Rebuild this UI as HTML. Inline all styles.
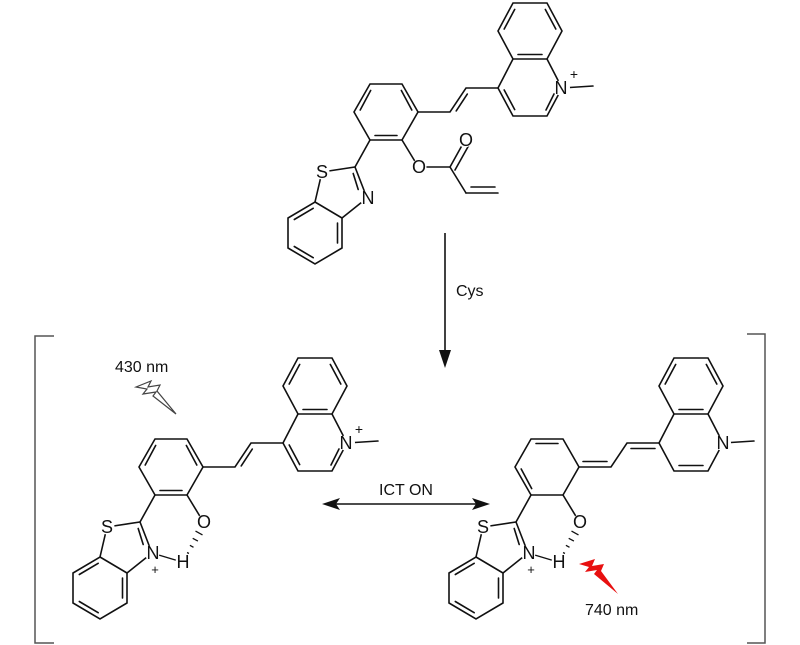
<!DOCTYPE html>
<html><head><meta charset="utf-8"><style>
html,body{margin:0;padding:0;background:#fff;}
svg{display:block;}
text{font-family:"Liberation Sans",Arial,sans-serif;fill:#111;}
</style></head><body>
<svg width="800" height="645" viewBox="0 0 800 645" xmlns="http://www.w3.org/2000/svg">
<defs>
<g id="skel" stroke="#111" stroke-width="1.6" fill="none" stroke-linecap="round">
  <polygon points="513,3 547,3 562,31 547,59 513,59 498,31"/>
  <polyline points="547,59 562,88 547,116 513,116 498,88 513,59"/>
  <line x1="562" y1="88" x2="593" y2="86"/>
  <polyline points="498,88 466,88 450,112 418,112"/>
  <polygon points="370,84 402,84 418,112 402,140 370,140 354,112"/>
  <line x1="402" y1="140" x2="419" y2="168"/>
  <line x1="370" y1="140" x2="355" y2="167"/>
  <polyline points="322,172 355,167 367,198 342,218"/>
  <line x1="322" y1="172" x2="315" y2="202"/>
  <line x1="353.2" y1="173.5" x2="358.2" y2="189.5"/>
  <polygon points="315,202 342,218 342,248 315,264 288,248 288,218"/>
  <line x1="337.5" y1="223" x2="337.5" y2="243"/>
  <line x1="313.2" y1="257.7" x2="294.3" y2="246.5"/>
  <line x1="294.3" y1="219.5" x2="313.2" y2="208.3"/>
  <line x1="504.2" y1="29" x2="514.7" y2="9.4"/>
  <line x1="545.3" y1="9.4" x2="555.8" y2="29"/>
  <line x1="518" y1="54.5" x2="542" y2="54.5"/>
</g>
<g id="cat" stroke="#111" stroke-width="1.6" fill="none" stroke-linecap="round">
  <line x1="546" y1="110" x2="554" y2="94"/>
  <line x1="514.7" y1="109.6" x2="504.2" y2="90"/>
  <line x1="467.3" y1="94.1" x2="456.2" y2="110.9"/>
  <line x1="360.2" y1="110" x2="370.7" y2="90.4"/>
  <line x1="401.3" y1="90.4" x2="411.8" y2="110"/>
  <line x1="375" y1="135.5" x2="397" y2="135.5"/>
</g>
<g id="hb" stroke="#111" stroke-width="1.3" fill="none">
  <line x1="397" y1="207" x2="367" y2="198"/>
  <line x1="402.1" y1="197.5" x2="403.9" y2="198.5"/>
  <line x1="404.9" y1="190.3" x2="408.5" y2="192.3"/>
  <line x1="407.7" y1="183.3" x2="412.9" y2="186.1"/>
  <line x1="410.5" y1="176.1" x2="417.5" y2="179.9"/>
</g>
</defs>

<use href="#skel"/>
<use href="#cat"/>
<g stroke="#111" stroke-width="1.6" fill="none" stroke-linecap="round">
  <line x1="419" y1="167" x2="450" y2="167"/>
  <line x1="450" y1="167" x2="465" y2="140"/>
  <line x1="455" y1="170" x2="469" y2="145"/>
  <line x1="450" y1="167" x2="466" y2="193"/>
  <line x1="466" y1="193" x2="498" y2="193"/>
  <line x1="471" y1="187" x2="495" y2="187"/>
</g>
<g fill="#fff">
  <circle cx="562" cy="88" r="8"/><circle cx="322" cy="172" r="7.5"/><circle cx="367" cy="198" r="7.5"/>
  <circle cx="419" cy="167" r="7.5"/><circle cx="465" cy="140" r="7.5"/>
</g>
<g font-size="18" text-anchor="middle">
  <text x="561" y="94">N</text><text x="574" y="79" font-size="14">+</text>
  <text x="322" y="178">S</text><text x="368" y="204">N</text>
  <text x="419" y="173">O</text><text x="466" y="146">O</text>
</g>

<g transform="translate(-215,355)">
  <use href="#skel"/><use href="#cat"/><use href="#hb"/>
  <g fill="#fff"><circle cx="562" cy="88" r="8"/><circle cx="322" cy="172" r="7.5"/><circle cx="367" cy="198" r="7.5"/><circle cx="419" cy="167" r="7.5"/><circle cx="397" cy="207" r="6.5"/></g>
  <g font-size="18" text-anchor="middle">
    <text x="561" y="94">N</text><text x="574" y="79" font-size="14">+</text>
    <text x="322" y="178">S</text><text x="368" y="204">N</text><text x="370" y="219" font-size="13">+</text>
    <text x="419" y="173">O</text><text x="398" y="213">H</text>
  </g>
</g>

<g transform="translate(161,355)">
  <use href="#skel"/><use href="#hb"/>
  <g stroke="#111" stroke-width="1.6" fill="none" stroke-linecap="round">
    <line x1="518" y1="110.5" x2="542" y2="110.5"/>
    <line x1="470" y1="93.5" x2="494" y2="93.5"/>
    <line x1="422" y1="106.5" x2="446" y2="106.5"/>
    <line x1="375" y1="88.5" x2="397" y2="88.5"/>
    <line x1="360.2" y1="114" x2="370.7" y2="133.6"/>
  </g>
  <g fill="#fff"><circle cx="562" cy="88" r="8"/><circle cx="322" cy="172" r="7.5"/><circle cx="367" cy="198" r="7.5"/><circle cx="419" cy="167" r="7.5"/><circle cx="397" cy="207" r="6.5"/></g>
  <g font-size="18" text-anchor="middle">
    <text x="562" y="94">N</text>
    <text x="322" y="178">S</text><text x="368" y="204">N</text><text x="370" y="219" font-size="13">+</text>
    <text x="419" y="173">O</text><text x="398" y="213">H</text>
  </g>
</g>

<g stroke="#111" stroke-width="1.6">
  <line x1="445" y1="233" x2="445" y2="356"/>
  <line x1="334" y1="504" x2="478" y2="504"/>
</g>
<polygon points="439,350 451,350 445,368" fill="#111"/>
<polygon points="322,504 340,498 336,504 340,510" fill="#111"/>
<polygon points="490,504 472,498 476,504 472,510" fill="#111"/>
<text x="456" y="296" font-size="16">Cys</text>
<text x="406" y="495" font-size="16" text-anchor="middle">ICT ON</text>

<g stroke="#555" stroke-width="1.5" fill="none">
  <polyline points="54,336 35,336 35,643 54,643"/>
  <polyline points="747,334 765,334 765,643 747,643"/>
</g>

<text x="115" y="372" font-size="16">430 nm</text>
<polygon points="136,387 151,381 148,387 160,385 157,391 176,414 153,396 156,392 143,394 147,389" fill="#fff" stroke="#444" stroke-width="1.2"/>
<polygon points="579,564 595,559 592,566 604,564 601,571 618,594 594,574 597,570 585,572 589,567" fill="#e81010"/>
<text x="585" y="615" font-size="16">740 nm</text>
</svg>
</body></html>
